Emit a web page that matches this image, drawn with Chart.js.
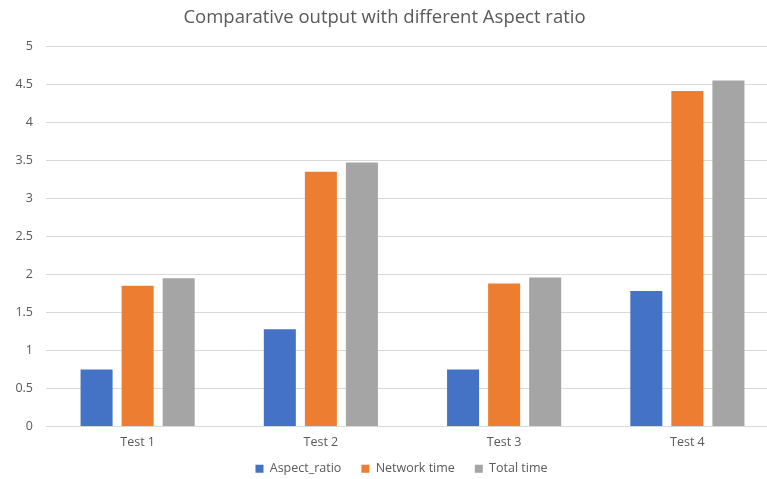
<!DOCTYPE html>
<html>
<head>
<meta charset="utf-8">
<script src="https://cdn.jsdelivr.net/npm/chart.js@4/dist/chart.umd.min.js"></script>
<style>
  html, body { margin: 0; padding: 0; background: #fff; overflow: hidden; }
  #outer { width: 767px; height: 479px; overflow: hidden; position: relative; }
  #wrap { width: 779px; height: 492px; position: absolute; left: 0; top: 0; }
</style>
</head>
<body>
<div id="outer"><div id="wrap"><canvas id="c"></canvas></div></div>
<script>
const categories = ["Test 1", "Test 2", "Test 3", "Test 4"];
const aspectRatio = [0.75, 1.28, 0.75, 1.78];
const networkTime = [1.85, 3.35, 1.88, 4.41];
const totalTime = [1.95, 3.47, 1.96, 4.55];
const seriesNames = ["Aspect_ratio", "Network time", "Total time"];
const yTicks = [0, 0.5, 1, 1.5, 2, 2.5, 3, 3.5, 4, 4.5, 5];

const textColor = "#595959";
const fontFamily = "'Open Sans', 'Noto Sans', sans-serif";

// nudge the legend and title boxes to sit as in the reference
const boxNudge = {
  id: "boxNudge",
  afterLayout(chart) {
    const lg = chart.legend;
    if (lg) { lg.top -= 7; lg.bottom -= 7; lg.left += 12; lg.right += 12; }
    const tb = chart.titleBlock;
    if (tb) { tb.left -= 5; tb.right -= 5; }
  }
};

new Chart(document.getElementById("c"), {
  type: "bar",
  data: {
    labels: categories,
    datasets: [
      { label: seriesNames[0], data: aspectRatio, backgroundColor: "#4472C4" },
      { label: seriesNames[1], data: networkTime, backgroundColor: "#ED7D31" },
      { label: seriesNames[2], data: totalTime, backgroundColor: "#A5A5A5" }
    ]
  },
  plugins: [boxNudge],
  options: {
    responsive: true,
    maintainAspectRatio: false,
    animation: false,
    devicePixelRatio: 1,
    layout: { padding: { left: 0, right: 0, top: 0, bottom: 0 } },
    datasets: { bar: { categoryPercentage: 0.672, barPercentage: 0.78 } },
    plugins: {
      title: {
        display: true,
        text: "Comparative output with different Aspect ratio",
        color: textColor,
        font: { family: fontFamily, size: 18.5, weight: "normal" },
        padding: { top: 7, bottom: 17 }
      },
      legend: {
        position: "bottom",
        labels: {
          boxWidth: 8, boxHeight: 8, padding: 20,
          color: textColor,
          font: { family: fontFamily, size: 12.5 }
        }
      },
      tooltip: { enabled: false }
    },
    scales: {
      x: {
        grid: { display: false },
        border: { display: false },
        ticks: { color: textColor, font: { family: fontFamily, size: 12.5 }, padding: 0 }
      },
      y: {
        min: 0, max: 5,
        afterBuildTicks: (axis) => { axis.ticks = yTicks.map(v => ({ value: v })); },
        afterFit: (axis) => { axis.width = 46; },
        grid: { color: "#d9d9d9", drawTicks: false },
        border: { display: false },
        ticks: {
          color: textColor,
          font: { family: fontFamily, size: 12.5 },
          padding: 13,
          callback: (v) => String(Number(v))
        }
      }
    }
  }
});
</script>
</body>
</html>
